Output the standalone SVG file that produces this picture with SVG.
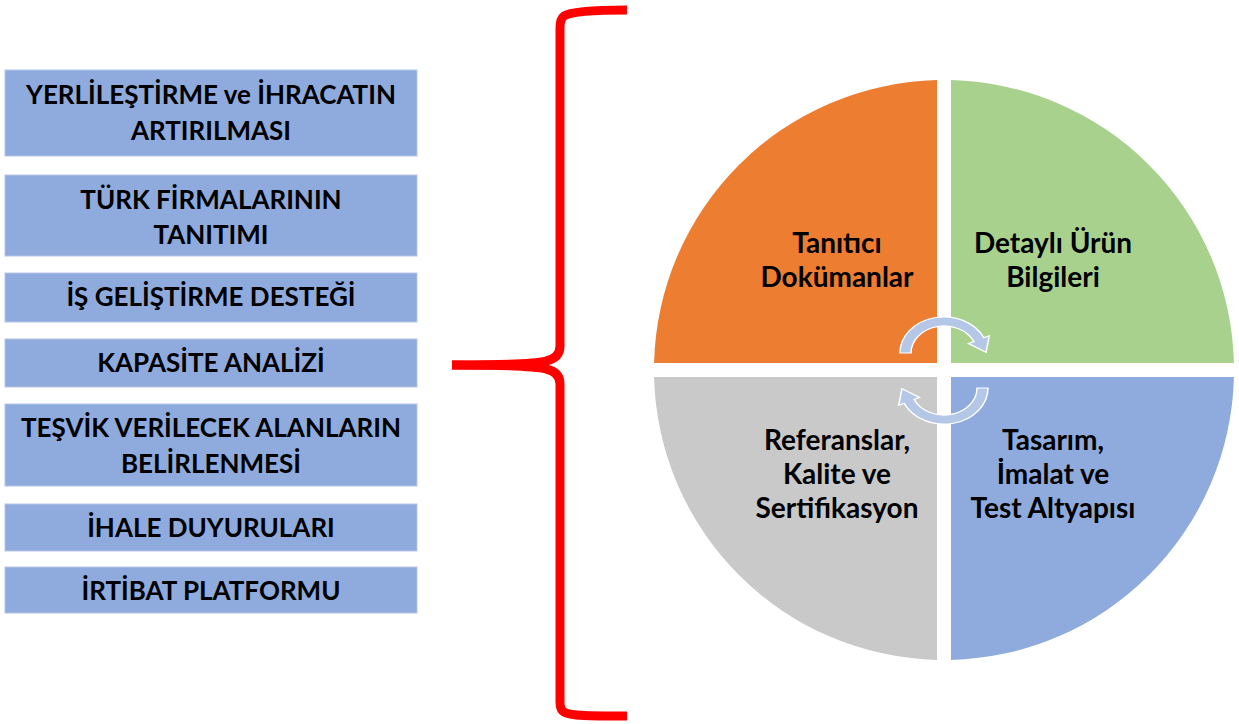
<svg xmlns="http://www.w3.org/2000/svg" width="1239" height="724" viewBox="0 0 1239 724">
<defs>
<style>
.box{fill:#8FAADC;stroke:#B4C7E7;stroke-width:1}
.bt{font-family:Lato,"Liberation Sans",sans-serif;font-weight:bold;font-size:26px;fill:#000;text-anchor:middle}
.ct{font-family:Lato,"Liberation Sans",sans-serif;font-weight:bold;font-size:28px;fill:#000;text-anchor:middle}
.brace{fill:none;stroke:#FF0000;stroke-width:9;stroke-linecap:butt}
.arr{fill:#B4C7E7;stroke:#FFFFFF;stroke-width:1.5}
</style>
<path id="arrowShape" d="M -44 0 A 44 44 0 0 1 39.88 -18.6 L 45.3 -21.1 L 42.07 -0.86 L 24.47 -11.41 L 29.91 -13.95 A 33 33 0 0 0 -33 0 Z"/>
</defs>
<rect width="1239" height="724" fill="#FFFFFF"/>

<g id="box1"><rect class="box" x="5" y="70" width="412" height="86"/><text class="bt" x="211" y="104">YERLİLEŞTİRME ve İHRACATIN</text><text class="bt" x="211" y="140">ARTIRILMASI</text></g>
<g id="box2"><rect class="box" x="5" y="175" width="412" height="81"/><text class="bt" x="211" y="209">TÜRK FİRMALARININ</text><text class="bt" x="211" y="244">TANITIMI</text></g>
<g id="box3"><rect class="box" x="5" y="273" width="412" height="49"/><text class="bt" x="211" y="306">İŞ GELİŞTİRME DESTEĞİ</text></g>
<g id="box4"><rect class="box" x="5" y="339" width="412" height="48"/><text class="bt" x="211" y="372">KAPASİTE ANALİZİ</text></g>
<g id="box5"><rect class="box" x="5" y="404" width="412" height="82"/><text class="bt" x="211" y="437">TEŞVİK VERİLECEK ALANLARIN</text><text class="bt" x="211" y="473">BELİRLENMESİ</text></g>
<g id="box6"><rect class="box" x="5" y="504" width="412" height="47"/><text class="bt" x="211" y="537">İHALE DUYURULARI</text></g>
<g id="box7"><rect class="box" x="5" y="567" width="412" height="46"/><text class="bt" x="211" y="600">İRTİBAT PLATFORMU</text></g>

<g id="brace">
<path class="brace" d="M 627 10 C 590 10 570 12 564 16 Q 560 19 560 28 L 560 346 Q 560 358 546 361 Q 530 365 452 365"/>
<path class="brace" d="M 452 365 Q 530 365 546 369 Q 560 372 560 384 L 560 702 Q 560 710 564 712 C 570 716 590 716 627 716"/>
</g>

<g id="q-tl"><path d="M 937 363 L 654.08 363 A 290 290 0 0 1 937 80.08 Z" fill="#ED7D31"/><text class="ct" x="837" y="253">Tanıtıcı</text><text class="ct" x="837" y="287">Dokümanlar</text></g>
<g id="q-tr"><path d="M 951 363 L 951 80.08 A 290 290 0 0 1 1233.92 363 Z" fill="#A9D18E"/><text class="ct" x="1053" y="253">Detaylı Ürün</text><text class="ct" x="1053" y="287">Bilgileri</text></g>
<g id="q-bl"><path d="M 937 377 L 937 659.92 A 290 290 0 0 1 654.08 377 Z" fill="#C9C9C9"/><text class="ct" x="837" y="450">Referanslar,</text><text class="ct" x="837" y="484">Kalite ve</text><text class="ct" x="837" y="518">Sertifikasyon</text></g>
<g id="q-br"><path d="M 951 377 L 1233.92 377 A 290 290 0 0 1 951 659.92 Z" fill="#8FAADC"/><text class="ct" x="1053" y="450">Tasarım,</text><text class="ct" x="1053" y="484">İmalat ve</text><text class="ct" x="1053" y="518">Test Altyapısı</text></g>

<g id="connectors">
<use href="#arrowShape" class="arr" transform="translate(944,353) scale(1,0.82)"/>
<use href="#arrowShape" class="arr" transform="translate(944,388) scale(1,0.82) rotate(180)"/>
</g>
</svg>
